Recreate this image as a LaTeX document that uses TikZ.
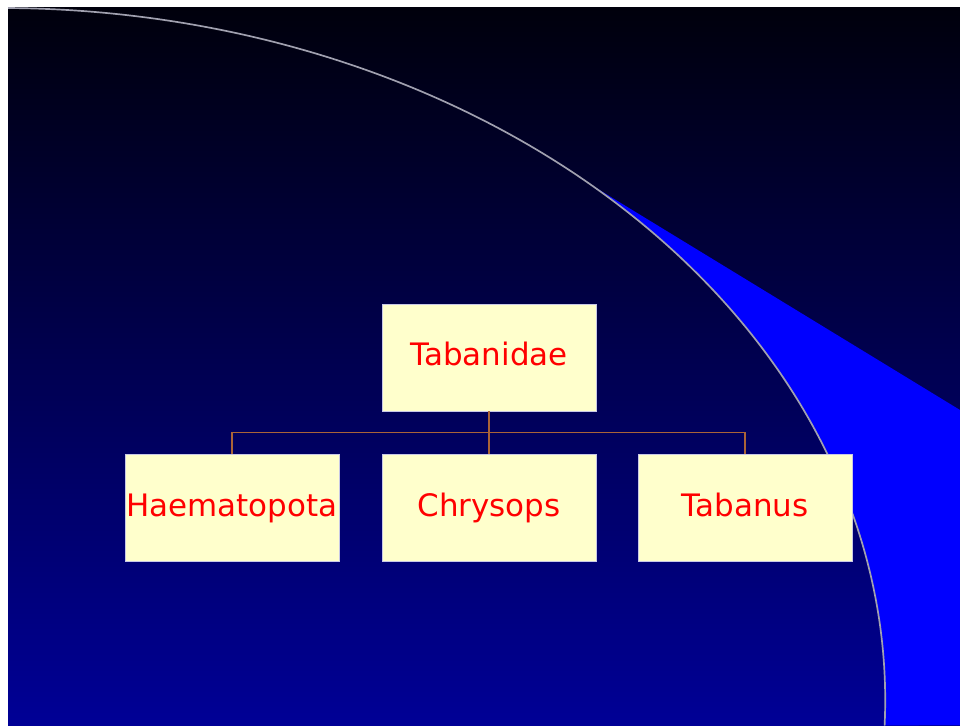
\documentclass[tikz,border=0pt]{standalone}
\usepackage{fontspec}
\usepackage{tikz}
\usetikzlibrary{positioning}
\newfontfamily\boxfont{DejaVu Sans}

\definecolor{slidetop}{RGB}{0,0,12}
\definecolor{slidemid}{RGB}{0,0,112}
\definecolor{slidebot}{RGB}{0,0,150}
\definecolor{wedgeblue}{RGB}{0,0,255}
\definecolor{arcgrey}{RGB}{160,160,175}
\definecolor{boxfill}{RGB}{255,255,204}
\definecolor{boxline}{RGB}{200,200,230}
\definecolor{linkbrown}{RGB}{170,100,55}

\begin{document}
\begin{tikzpicture}[
  x=0.025cm, y=0.025cm,
  taxon/.style={draw=boxline, line width=0.6pt, fill=boxfill, rectangle, minimum width=5.35cm, minimum height=2.675cm, inner sep=0pt, text height=16pt, text depth=4pt, font=\boxfont\fontsize{22}{26}\selectfont, text=red},
  link/.style={draw=linkbrown, line width=1.4pt},
  rim/.style={draw=arcgrey, line width=1.2pt}
]
\useasboundingbox (0,0) rectangle (960,725);
\fill[white] (0,0) rectangle (960,725);

% Slide background
\shade[top color=slidetop, middle color=slidemid, bottom color=slidebot] (8,0) rectangle (960,717);
\begin{scope}
  \clip (8,0) rectangle (960,717);
  \fill[wedgeblue] (960,315) -- (590,540.8) arc[start angle=48.19, end angle=-2.1, x radius=22.125cm, y radius=17.3cm] -- (960,0) -- cycle;
  \draw[rim] (0,717) arc[start angle=90, end angle=-2.1, x radius=22.125cm, y radius=17.3cm];
\end{scope}

% Family
\node[taxon] (tab) at (489,367.5) {Tabanidae};

% Genera
\node[taxon] (haem) at (232,217) {Haematopota};
\node[taxon] (chry) at (489,217) {Chrysops};
\node[taxon] (taba) at (745,217) {Tabanus};

% Connectors
\coordinate (bar) at (489,292.5);
\draw[link] (tab.south) -- (bar);
\draw[link] (bar) -| (haem.north);
\draw[link] (bar) -- (chry.north);
\draw[link] (bar) -| (taba.north);

\end{tikzpicture}
\end{document}
